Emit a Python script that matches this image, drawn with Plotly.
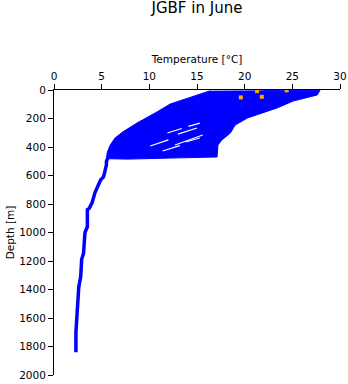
import plotly.graph_objects as go

# Envelope of the dense upper cloud of profiles (temperature °C, depth m), traced clockwise
cloud_temp = [16.4, 15.3, 14.0, 13.5, 12.2, 10.8, 8.7, 7.2, 6.4, 5.9, 5.6, 5.5, 7.8, 12.0, 16.9,
              17.1, 17.2, 17.6, 18.5, 19.0, 20.3, 21.9, 23.4, 25.1, 27.6, 27.9, 22.0]
cloud_depth = [5, 28, 56, 70, 98, 154, 232, 295, 337, 386, 435, 482, 485, 478, 470,
               470, 386, 351, 302, 246, 196, 161, 126, 77, 35, 2, 2]

# Deep single profile
deep_temp = [5.7, 5.5, 5.5, 5.2, 4.9, 4.6, 4.3, 4.0, 3.7, 3.5, 3.5, 3.25, 3.1, 2.9, 2.8, 2.6, 2.5, 2.4, 2.3, 2.3]
deep_depth = [470, 500, 525, 610, 630, 680, 720, 790, 830, 840, 960, 1000, 1145, 1190, 1310, 1380, 1520, 1610, 1700, 1840]

# Gaps (white streaks) inside the cloud: start/end temperature and depth
gap_temp = [[11.4, 13.2], [13.8, 15.3], [10.1, 12.0], [13.0, 15.0], [11.9, 13.4], [14.1, 15.3], [12.7, 15.6]]
gap_depth = [[428, 390], [365, 337], [393, 350], [310, 267], [302, 270], [255, 232], [386, 316]]

# Orange points near the surface
orange_temp = [21.3, 24.4, 19.6, 21.8]
orange_depth = [8, 3, 52, 48]

x_ticks = [0, 5, 10, 15, 20, 25, 30]
y_ticks = [0, 200, 400, 600, 800, 1000, 1200, 1400, 1600, 1800, 2000]

BLUE = "#0000ff"
fig = go.Figure()
fig.add_trace(go.Scatter(x=cloud_temp, y=cloud_depth, fill="toself", fillcolor=BLUE,
                         mode="lines", line=dict(color=BLUE, width=1), hoverinfo="skip"))
fig.add_trace(go.Scatter(x=deep_temp, y=deep_depth, mode="lines",
                         line=dict(color=BLUE, width=3.5)))
for gt, gd in zip(gap_temp, gap_depth):
    fig.add_trace(go.Scatter(x=gt, y=gd, mode="lines", line=dict(color="white", width=1.2)))
fig.add_trace(go.Scatter(x=orange_temp, y=orange_depth, mode="markers",
                         marker=dict(color="#ffa500", size=4, symbol="square", line=dict(width=0))))

font = "DejaVu Sans, sans-serif"
fig.update_layout(
    width=348, height=384,
    margin=dict(l=54, r=8, t=90, b=9, pad=0),
    paper_bgcolor="white", plot_bgcolor="white",
    showlegend=False,
    title=dict(text="JGBF in June", x=0.566, xref="container", xanchor="center",
               y=1, yref="container", yanchor="top", pad=dict(t=2),
               font=dict(family=font, size=15, color="black")),
    font=dict(family=font, size=10.5, color="black"),
    xaxis=dict(range=[0, 30], side="top", tickvals=x_ticks, showgrid=False, zeroline=False,
               automargin=False,
               showline=True, linecolor="black", linewidth=1, ticks="outside", ticklen=5,
               tickcolor="black", title=dict(text="Temperature [°C]", standoff=4,
                                             font=dict(size=10.5))),
    yaxis=dict(range=[2000, 0], tickvals=y_ticks, showgrid=False, zeroline=False,
               automargin=False,
               showline=True, linecolor="black", linewidth=1, ticks="outside", ticklen=5,
               tickcolor="black", title=dict(text="Depth [m]", standoff=2,
                                             font=dict(size=10.5))),
)
fig.write_html("out.html", config={"displayModeBar": False},
               post_script="document.body.style.margin='0';document.body.style.overflow='hidden';")
